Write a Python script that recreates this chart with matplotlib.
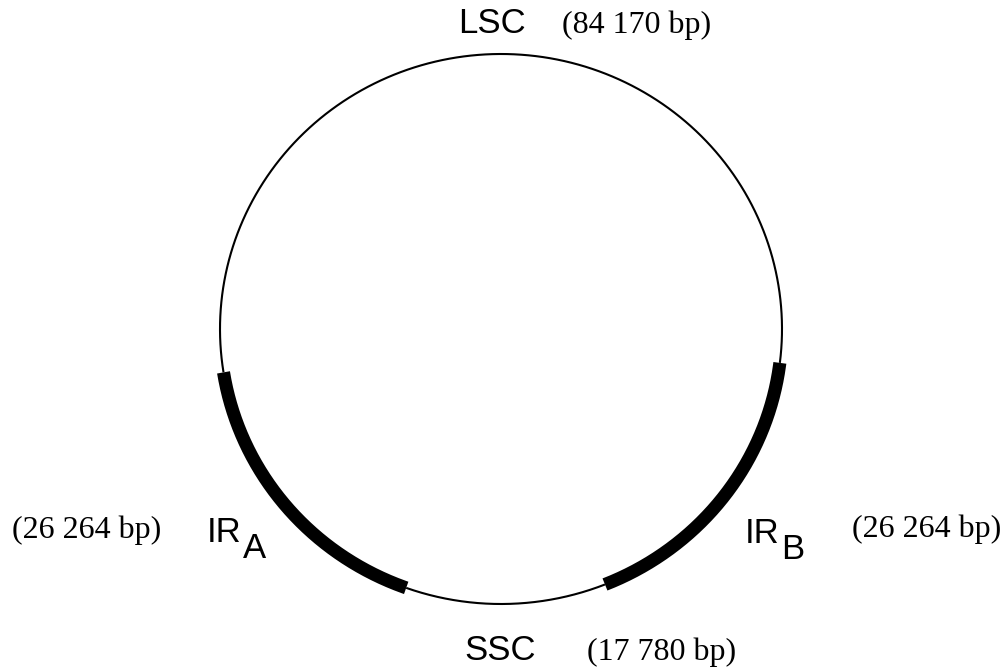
import numpy as np
import matplotlib.pyplot as plt

# chloroplast genome regions (bp)
regions = ["LSC", "IRB", "SSC", "IRA"]
lengths = [84170, 26264, 17780, 26264]
thick = [False, True, False, True]
size_labels = ["(84 170 bp)", "(26 264 bp)", "(17 780 bp)", "(26 264 bp)"]

total = sum(lengths)
cx, cy, rx, ry = 501, 329, 281, 275
ssc_mid = 271.0  # degrees, SSC sits at the bottom

fig = plt.figure(figsize=(10.05, 6.71), dpi=100)
ax = fig.add_axes([0, 0, 1, 1])
ax.set_xlim(0, 1005)
ax.set_ylim(671, 0)
ax.axis("off")

# counter-clockwise from SSC: SSC, IRB, LSC, IRA
spans = [360.0 * L / total for L in lengths]
order = [2, 1, 0, 3]
start = {}
a = ssc_mid - spans[2] / 2
for i in order:
    start[i] = (a, a + spans[i])
    a += spans[i]

for i in range(4):
    a0, a1 = start[i]
    t = np.radians(np.linspace(a0, a1, 400))
    x = cx + rx * np.cos(t)
    y = cy - ry * np.sin(t)
    ax.plot(x, y, color="black", lw=9.4 if thick[i] else 1.5,
            solid_capstyle="butt", zorder=3 if thick[i] else 2)

sans = "Liberation Sans"
serif = "Liberation Serif"
fs_sans = 25
fs_serif = 23

ax.text(458, 33, "LSC", family=sans, fontsize=fs_sans, ha="left", va="baseline")
ax.text(562, 33, size_labels[0], family=serif, fontsize=fs_serif, ha="left", va="baseline")

ax.text(207, 542, "IR", family=sans, fontsize=fs_sans, ha="left", va="baseline")
ax.text(243, 558, "A", family=sans, fontsize=fs_sans, ha="left", va="baseline")
ax.text(12, 538, size_labels[3], family=serif, fontsize=fs_serif, ha="left", va="baseline")

ax.text(745, 543, "IR", family=sans, fontsize=fs_sans, ha="left", va="baseline")
ax.text(781, 559, "B", family=sans, fontsize=fs_sans, ha="left", va="baseline")
ax.text(852, 537, size_labels[1], family=serif, fontsize=fs_serif, ha="left", va="baseline")

ax.text(464, 660, "SSC", family=sans, fontsize=fs_sans, ha="left", va="baseline")
ax.text(587, 660, size_labels[2], family=serif, fontsize=fs_serif, ha="left", va="baseline")

fig.savefig("out.png", dpi=100)
